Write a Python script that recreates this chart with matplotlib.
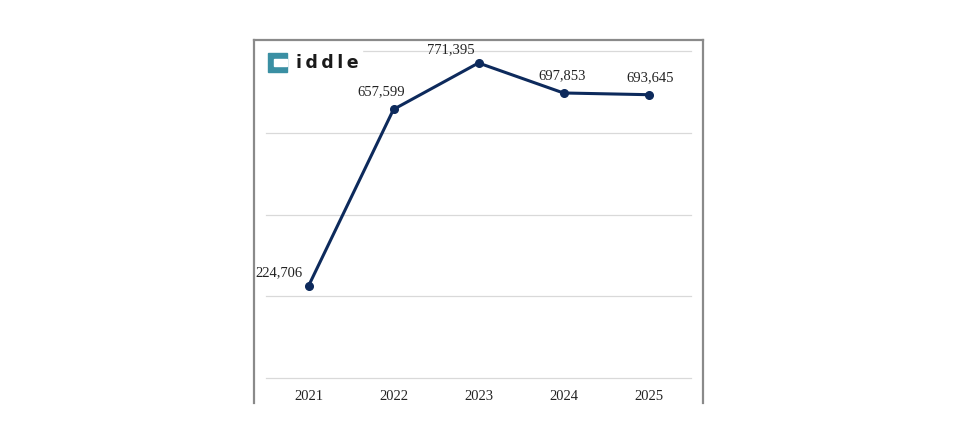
import matplotlib.pyplot as plt
from matplotlib.patches import Rectangle
from matplotlib.lines import Line2D

years = ['2021', '2022', '2023', '2024', '2025']
values = [224706, 657599, 771395, 697853, 693645]
labels = ['224,706', '657,599', '771,395', '697,853', '693,645']
# label offsets in points (dx, dy)
offsets = [(-21, 5), (-9, 8), (-20, 5), (-1, 8), (1.5, 7.5)]

def main():
    fig = plt.figure(figsize=(9.57, 4.45), dpi=100)
    ax = fig.add_axes([266 / 957, 67.3 / 445, 425 / 957, 326.4 / 445])

    x = list(range(len(years)))
    ax.plot(x, values, color='#0d2a5c', lw=2.2, marker='o', ms=5.5, zorder=3)
    for xi, v, lab, off in zip(x, values, labels, offsets):
        ax.annotate(lab, (xi, v), xytext=off, textcoords='offset points',
                    ha='center', va='bottom', fontsize=10.5,
                    family='Liberation Serif', color='#222222')

    ax.set_xlim(-0.5, len(years) - 0.5)
    ax.set_ylim(0, 800000)
    ax.set_yticks([0, 200000, 400000, 600000, 800000])
    ax.set_yticklabels([])
    ax.set_xticks(x)
    ax.set_xticklabels(years, family='Liberation Serif', fontsize=10.5, color='#222222')
    ax.tick_params(length=0, pad=9)
    ax.grid(axis='y', color='#d9d9d9', lw=0.9)
    for gl in ax.get_ygridlines():
        gl.set_clip_on(False)
    ax.set_axisbelow(True)
    for s in ax.spines.values():
        s.set_visible(False)

    # outer frame (screenshot border, no bottom edge)
    x0, x1 = 254 / 957, 703 / 957
    y0, y1 = 42 / 445, 405 / 445
    for xs, ys in [([x0, x0], [y0, y1]), ([x0, x1], [y1, y1]), ([x1, x1], [y1, y0])]:
        fig.add_artist(Line2D(xs, ys, color='#8a8a8a', lw=1.6, transform=fig.transFigure))

    # logo
    fig.add_artist(Rectangle((262 / 957, 368 / 445), 100 / 957, 30 / 445,
                             transform=fig.transFigure, color='white', zorder=4))
    fig.add_artist(Rectangle((268 / 957, 373 / 445), 19 / 957, 19 / 445,
                             transform=fig.transFigure, color='#3a8fa3', zorder=5))
    fig.add_artist(Rectangle((274 / 957, 379 / 445), 13 / 957, 7 / 445,
                             transform=fig.transFigure, color='white', zorder=6))
    fig.text(296 / 957, 382 / 445, 'i\u2009d\u2009d\u2009l\u2009e', fontsize=12.5,
             fontweight='bold', family='DejaVu Sans', color='#1a1a1a',
             va='center', ha='left', zorder=7)

    fig.savefig('out.png', dpi=100)

if __name__ == "__main__":
    main()
